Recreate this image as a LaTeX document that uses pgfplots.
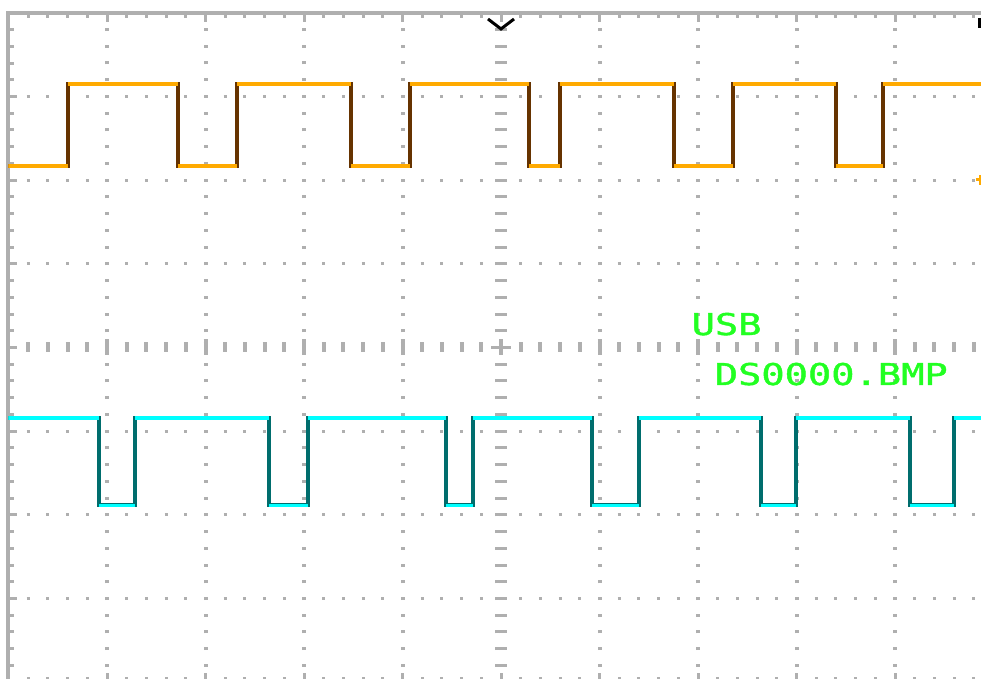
\documentclass[border=0pt]{standalone}
\usepackage{pgfplots}
\pgfplotsset{compat=1.18}
\usepackage{fontspec}
\newfontfamily\scopefont[FakeBold=1.2]{DejaVu Sans Mono}
\definecolor{framegray}{HTML}{AFAFAF}
\definecolor{ch1}{HTML}{FFAA00}
\definecolor{ch1dark}{HTML}{663300}
\definecolor{ch2}{HTML}{00FFFF}
\definecolor{ch2dark}{HTML}{006D6D}
\definecolor{scopegreen}{HTML}{22FF22}
\begin{document}
\begin{tikzpicture}
\useasboundingbox (0,0) rectangle (490.5pt,339.5pt);
\begin{axis}[
  at={(4.25pt,-1.6pt)}, anchor=south west,
  scale only axis, width=492.5pt, height=334.7pt,
  xmin=0, xmax=10, ymin=-4, ymax=4,
  xtick={0,1,...,10}, ytick={-4,-3,...,4},
  minor x tick num=4, minor y tick num=4,
  xticklabels={}, yticklabels={},
  axis line style={draw=framegray, line width=2pt},
  tick style={draw=framegray, line width=1.5pt},
  major tick length=4.5pt, minor tick length=2.8pt,
  tick align=inside,
  grid=major,
  x grid style={draw=framegray, line width=2pt, dash pattern=on 1.5pt off 6.8675pt, dash phase=0.75pt},
  y grid style={draw=framegray, line width=1.5pt, dash pattern=on 1.5pt off 8.35pt, dash phase=0.75pt},
]
% centre graticule lines
\addplot[draw=framegray, line width=6pt, dash pattern=on 1.5pt off 6.8675pt, dash phase=0.75pt, mark=none] coordinates {(5,-4) (5,4)};
\addplot[draw=framegray, line width=5pt, dash pattern=on 2pt off 7.85pt, dash phase=1pt, mark=none] coordinates {(0,0) (10,0)};
\addplot[draw=framegray, line width=8pt, dash pattern=on 2pt off 47.25pt, dash phase=1pt, mark=none] coordinates {(0,0) (10,0)};
\addplot[draw=framegray, line width=1.5pt, mark=none] coordinates {(4.9,0) (5.1,0)};
% Channel 1
\addplot[const plot, draw=ch1dark, line width=2pt, mark=none] coordinates {
 (0,2.17) (0.604,3.15) (1.721,2.17) (2.320,3.15) (3.477,2.17) (4.076,3.15)
 (5.284,2.17) (5.599,3.15) (6.756,2.17) (7.355,3.15) (8.401,2.17) (8.878,3.15) (10,3.15)};
\addplot[jump mark left, draw=ch1, line width=1.8pt, mark=none] coordinates {
 (0,2.17) (0.604,3.15) (1.721,2.17) (2.320,3.15) (3.477,2.17) (4.076,3.15)
 (5.284,2.17) (5.599,3.15) (6.756,2.17) (7.355,3.15) (8.401,2.17) (8.878,3.15) (10,3.15)};
% Channel 2
\addplot[const plot, draw=ch2dark, line width=2pt, mark=none] coordinates {
 (0,-0.843) (0.919,-1.888) (1.284,-0.843) (2.645,-1.888) (3.041,-0.843) (4.442,-1.888)
 (4.716,-0.843) (5.924,-1.888) (6.401,-0.843) (7.640,-1.888) (7.995,-0.843) (9.157,-1.888)
 (9.599,-0.843) (10,-0.843)};
\addplot[jump mark left, draw=ch2, line width=1.8pt, mark=none] coordinates {
 (0,-0.843) (0.919,-1.888) (1.284,-0.843) (2.645,-1.888) (3.041,-0.843) (4.442,-1.888)
 (4.716,-0.843) (5.924,-1.888) (6.401,-0.843) (7.640,-1.888) (7.995,-0.843) (9.157,-1.888)
 (9.599,-0.843) (10,-0.843)};
% trigger position marker (top centre)
\addplot[draw=black, line width=1.5pt, mark=none] coordinates {(4.868,3.926) (5.0,3.807) (5.132,3.926)};
% right-edge markers
\addplot[draw=black, line width=1.5pt, mark=none] coordinates {(9.858,3.938) (9.858,3.819)};
\addplot[draw=ch1, line width=1.2pt, mark=none] coordinates {(9.863,2.062) (9.863,1.942)};
\addplot[draw=ch1, line width=1.5pt, mark=none] coordinates {(9.822,2.002) (9.873,2.002)};
% text
\node[anchor=base west, inner sep=0pt, text=scopegreen, xscale=1.29, font=\scopefont\fontsize{15pt}{15pt}\selectfont] at (axis cs:6.93,0.149) {USB};
\node[anchor=base west, inner sep=0pt, text=scopegreen, xscale=1.29, font=\scopefont\fontsize{15pt}{15pt}\selectfont] at (axis cs:7.165,-0.448) {DS0000.BMP};
\end{axis}
\end{tikzpicture}
\end{document}
